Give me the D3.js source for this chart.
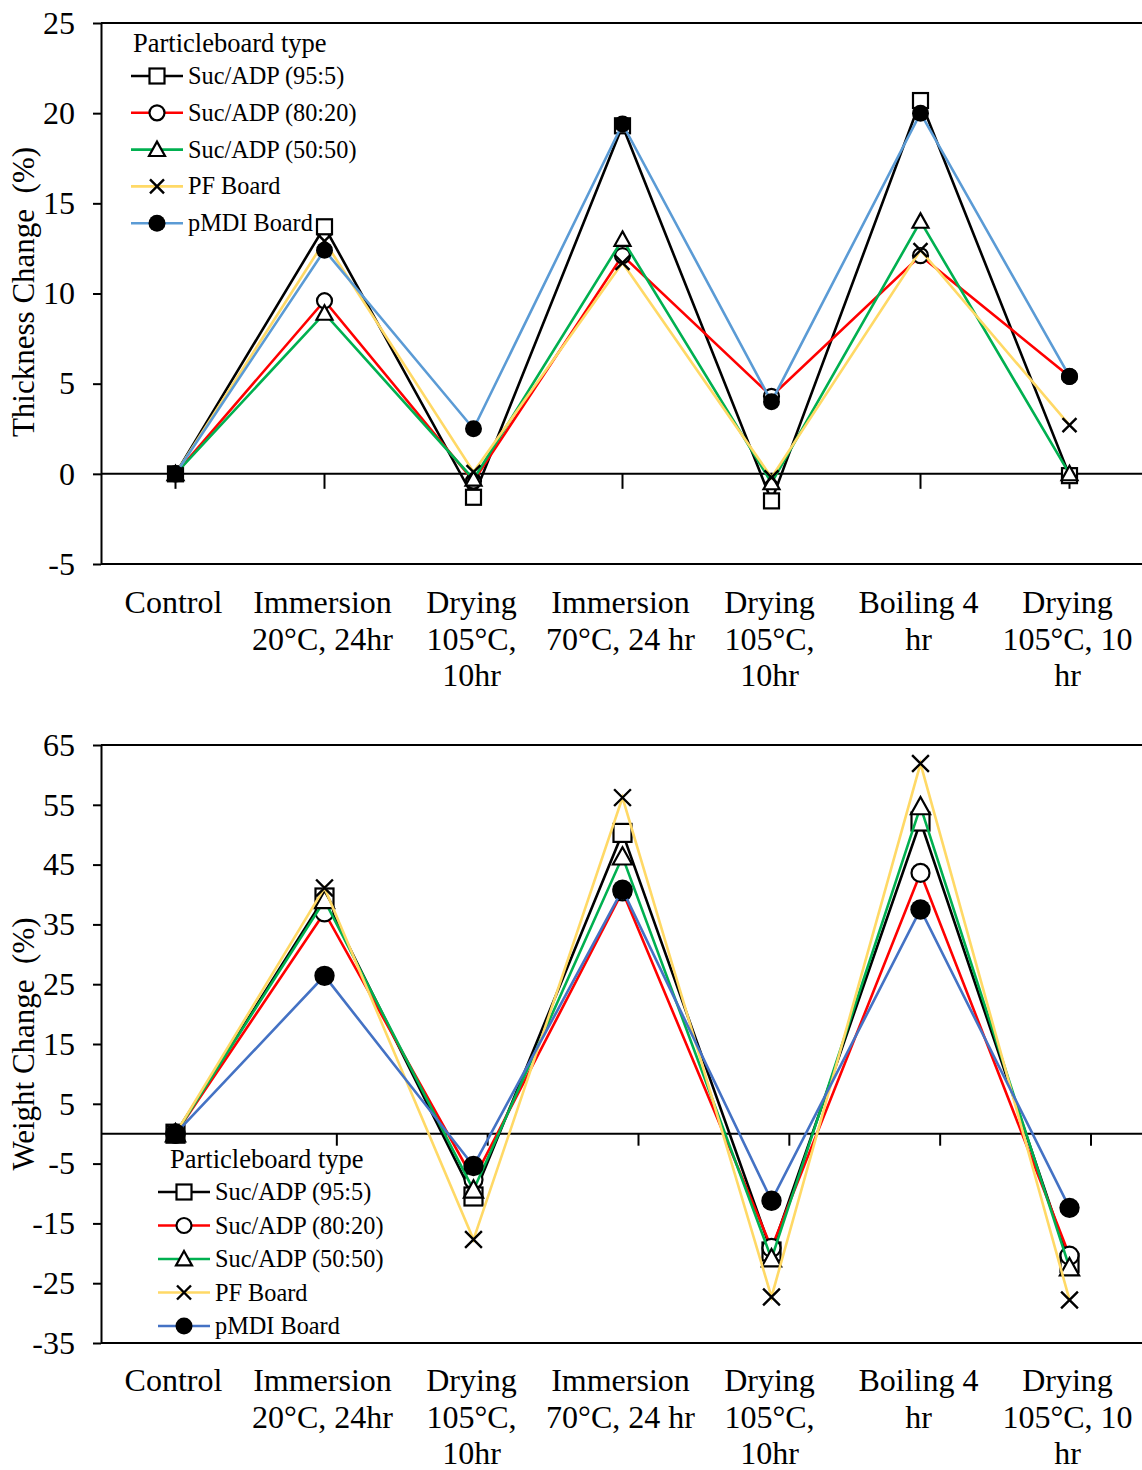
<!DOCTYPE html>
<html>
<head>
<meta charset="utf-8">
<script src="https://cdn.jsdelivr.net/npm/d3@7"></script>
<style>
  body { margin: 0; background: #fff; }
  svg { display: block; }
  text { font-family: "Liberation Serif", "Times New Roman", serif; fill: #000; }
</style>
</head>
<body>
<svg id="chart" width="1142" height="1470"></svg>
<script>
// Test stages (x categories) and their multi-line labels
const categories = ["control", "imm20", "dry1", "imm70", "dry2", "boil", "dry3"];
const categoryLabels = [
  ["Control"],
  ["Immersion", "20°C, 24hr"],
  ["Drying", "105°C,", "10hr"],
  ["Immersion", "70°C, 24 hr"],
  ["Drying", "105°C,", "10hr"],
  ["Boiling 4", "hr"],
  ["Drying", "105°C, 10", "hr"]
];

// Board types
const seriesNames = ["Suc/ADP (95:5)", "Suc/ADP (80:20)", "Suc/ADP (50:50)", "PF Board", "pMDI Board"];
const seriesSymbols = ["square", "circle", "triangle", "cross", "dot"];
const thicknessColors = ["#000000", "#FF0000", "#00B050", "#FFD966", "#5B9BD5"];
const weightColors = ["#000000", "#FF0000", "#00B050", "#FFD966", "#4472C4"];

// Thickness change (%)
const thickSuc95 = [0, 13.7, -1.3, 19.3, -1.5, 20.7, -0.1];
const thickSuc80 = [0, 9.6, -0.4, 12.1, 4.3, 12.1, 5.4];
const thickSuc50 = [0, 8.9, -0.3, 13.0, -0.5, 14.0, 0.0];
const thickPF    = [0, 12.9, 0.1, 11.7, -0.2, 12.4, 2.7];
const thickPMDI  = [0, 12.4, 2.5, 19.4, 4.0, 20.0, 5.4];

// Weight change (%)
const weightSuc95 = [0, 39.5, -10.5, 50.3, -19.7, 52.2, -21.6];
const weightSuc80 = [0, 37.0, -7.7, 40.5, -19.1, 43.6, -20.4];
const weightSuc50 = [0, 39.0, -9.4, 46.3, -20.9, 54.7, -22.4];
const weightPF    = [0, 41.1, -17.7, 56.2, -27.3, 61.9, -27.8];
const weightPMDI  = [0, 26.4, -5.4, 40.8, -11.2, 37.5, -12.4];

const thicknessTicks = [-5, 0, 5, 10, 15, 20, 25];
const weightTicks = [-35, -25, -15, -5, 5, 15, 25, 35, 45, 55, 65];

const svg = d3.select("#chart");

function drawMarker(g, type, cx, cy, s) {
  if (type === "square") {
    g.append("rect").attr("x", cx - 7.5 * s).attr("y", cy - 7.5 * s)
      .attr("width", 15 * s).attr("height", 15 * s)
      .attr("fill", "#fff").attr("stroke", "#000").attr("stroke-width", 2.2);
  } else if (type === "circle") {
    g.append("circle").attr("cx", cx).attr("cy", cy).attr("r", 7.5 * s)
      .attr("fill", "#fff").attr("stroke", "#000").attr("stroke-width", 2.2);
  } else if (type === "triangle") {
    const r = 8 * s;
    g.append("path")
      .attr("d", `M${cx},${cy - r}L${cx + r},${cy + r * 0.8}L${cx - r},${cy + r * 0.8}Z`)
      .attr("fill", "#fff").attr("stroke", "#000").attr("stroke-width", 2.2);
  } else if (type === "cross") {
    const r = 7 * s;
    g.append("path")
      .attr("d", `M${cx - r},${cy - r}L${cx + r},${cy + r}M${cx + r},${cy - r}L${cx - r},${cy + r}`)
      .attr("fill", "none").attr("stroke", "#000").attr("stroke-width", 2.4);
  } else {
    g.append("circle").attr("cx", cx).attr("cy", cy).attr("r", 8.5 * s).attr("fill", "#000");
  }
}

function drawPanel(cfg) {
  const g = svg.append("g");
  const x = d3.scalePoint().domain(categories).range([cfg.left, cfg.left + 1043]).padding(0.5);
  const y = d3.scaleLinear().domain(cfg.domain).range([cfg.bottom, cfg.top]);

  // plot frame: top and bottom edges
  [cfg.top, cfg.bottom].forEach(v => {
    g.append("line").attr("x1", cfg.left).attr("x2", 1142).attr("y1", v).attr("y2", v)
      .attr("stroke", "#000").attr("stroke-width", 2);
  });

  // value axis (plain hyphen for negatives)
  const yAxis = g.append("g").attr("transform", `translate(${cfg.left},0)`)
    .call(d3.axisLeft(y).tickValues(cfg.ticks).tickFormat(d => String(d))
      .tickSize(8).tickPadding(18).tickSizeOuter(0));
  yAxis.select(".domain").attr("stroke-width", 2);
  yAxis.selectAll(".tick line").attr("stroke-width", 2);
  yAxis.selectAll(".tick text").attr("font-size", 32).attr("fill", "#000")
    .attr("font-family", '"Liberation Serif", "Times New Roman", serif');

  // category axis along zero
  const y0 = y(0);
  g.append("line").attr("x1", cfg.left).attr("x2", 1142).attr("y1", y0).attr("y2", y0)
    .attr("stroke", "#000").attr("stroke-width", 2);
  cfg.tickPositions.forEach(px => {
    g.append("line").attr("x1", px).attr("x2", px).attr("y1", y0).attr("y2", y0 + cfg.tickLen)
      .attr("stroke", "#000").attr("stroke-width", 2);
  });

  // category labels
  categories.forEach((c, i) => {
    const t = g.append("text").attr("text-anchor", "middle").attr("font-size", 32);
    categoryLabels[i].forEach((line, j) => {
      t.append("tspan").attr("x", x(c) - 2).attr("y", cfg.labelY + j * 36.5).text(line);
    });
  });

  // axis title
  g.append("text")
    .attr("transform", `translate(34,${cfg.titleY}) rotate(-90)`)
    .attr("text-anchor", "middle").attr("font-size", 31)
    .style("white-space", "pre")
    .text(cfg.title);

  // series lines and markers
  const line = d3.line().x((d, i) => x(categories[i])).y(d => y(d));
  cfg.data.forEach((vals, k) => {
    g.append("path").attr("d", line(vals)).attr("fill", "none")
      .attr("stroke", cfg.colors[k]).attr("stroke-width", 2.6).attr("stroke-linejoin", "miter");
    vals.forEach((v, i) => drawMarker(g, seriesSymbols[k], x(categories[i]), y(v), cfg.markerScale));
  });

  // legend
  const lg = g.append("g");
  lg.append("text").attr("x", cfg.legend.titleX).attr("y", cfg.legend.titleY)
    .attr("font-size", 26.5).text("Particleboard type");
  seriesNames.forEach((name, k) => {
    const ly = cfg.legend.y0 + k * cfg.legend.step;
    lg.append("line").attr("x1", cfg.legend.x0).attr("x2", cfg.legend.x0 + 52)
      .attr("y1", ly).attr("y2", ly).attr("stroke", cfg.colors[k]).attr("stroke-width", 2.6);
    drawMarker(lg, seriesSymbols[k], cfg.legend.x0 + 26, ly, cfg.legendMarkerScale);
    lg.append("text").attr("x", cfg.legend.x0 + 57).attr("y", ly + 8).attr("font-size", 24.3).text(name);
  });
}

// Thickness change panel: ticks sit at each stage
const xTop = d3.scalePoint().domain(categories).range([101, 1144]).padding(0.5);
drawPanel({
  left: 101, top: 23, bottom: 564, domain: [-5, 25], ticks: thicknessTicks,
  data: [thickSuc95, thickSuc80, thickSuc50, thickPF, thickPMDI],
  colors: thicknessColors, markerScale: 1, legendMarkerScale: 1,
  tickPositions: categories.map(c => xTop(c)), tickLen: 15,
  labelY: 613, title: "Thickness Change  (%)", titleY: 292,
  legend: { titleX: 133, titleY: 52, x0: 131, y0: 76, step: 36.8 }
});

// Weight change panel: category tick marks run on their own spacing
const tickIndex = d3.scaleLinear().domain([0, 6]).range([186, 1091]);
drawPanel({
  left: 101, top: 745, bottom: 1343, domain: [-35, 65], ticks: weightTicks,
  data: [weightSuc95, weightSuc80, weightSuc50, weightPF, weightPMDI],
  colors: weightColors, markerScale: 1.2, legendMarkerScale: 1,
  tickPositions: d3.range(1, 7).map(i => tickIndex(i)), tickLen: 12,
  labelY: 1391, title: "Weight Change  (%)", titleY: 1044,
  legend: { titleX: 170, titleY: 1168, x0: 158, y0: 1192, step: 33.5 }
});
</script>
</body>
</html>
